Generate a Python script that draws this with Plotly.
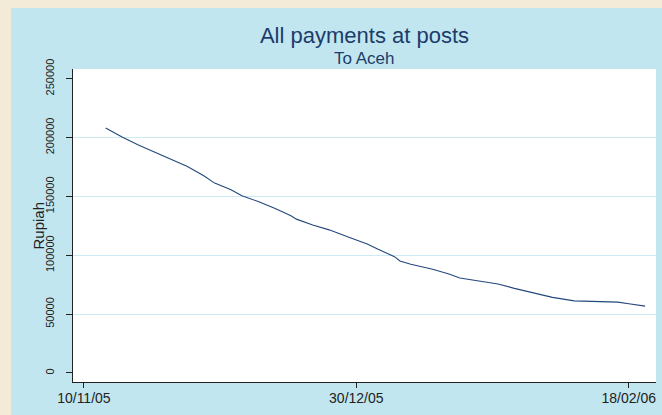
import plotly.graph_objects as go

# Data
dates = ["2005-11-14", "2005-11-15", "2005-11-17", "2005-11-20", "2005-11-23", "2005-11-26",
         "2005-11-29", "2005-12-02", "2005-12-04", "2005-12-07", "2005-12-09", "2005-12-12",
         "2005-12-15", "2005-12-18", "2005-12-19", "2005-12-22", "2005-12-25", "2005-12-29",
         "2006-01-01", "2006-01-03", "2006-01-05", "2006-01-06", "2006-01-07", "2006-01-09",
         "2006-01-13", "2006-01-16", "2006-01-18", "2006-01-22", "2006-01-25", "2006-01-28",
         "2006-02-01", "2006-02-04", "2006-02-08", "2006-02-12", "2006-02-16", "2006-02-18",
         "2006-02-21"]
rupiah = [208200, 205600, 200500, 193700, 187700, 181200,
          175500, 167600, 161300, 155600, 150500, 145700,
          140000, 133500, 130700, 125800, 121600, 114700,
          109600, 105100, 100500, 98800, 95100, 92300,
          88100, 84100, 80700, 77900, 75600, 71900,
          67600, 64200, 61300, 60800, 60200, 58800,
          56800]

x_tick_vals = ["2005-11-10", "2005-12-30", "2006-02-18"]
x_tick_text = ["10/11/05", "30/12/05", "18/02/06"]
y_tick_vals = [0, 50000, 100000, 150000, 200000, 250000]
y_grid_vals = [50000, 100000, 150000, 200000]

title_text = "All payments at posts"
subtitle_text = "To Aceh"
y_title = "Rupiah"

W, H = 662, 415
ML, MR, MT, MB = 73, 6, 69, 33
PW, PH = W - ML - MR, H - MT - MB

BLUE = "#C2E6EF"
BEIGE = "#F3EAD7"
NAVY = "#22497A"
TITLE_C = "#1C3D6B"
GRID = "#CDEBF4"
FONT = "Liberation Sans, Arial, sans-serif"

fig = go.Figure()
fig.add_trace(go.Scatter(x=dates, y=rupiah, mode="lines",
                         line=dict(color=NAVY, width=1.1), showlegend=False,
                         hoverinfo="skip"))
# invisible trace on overlay axis carrying the interior gridlines
fig.add_trace(go.Scatter(x=dates[:1], y=rupiah[:1], yaxis="y2", mode="lines",
                         line=dict(width=0), showlegend=False, hoverinfo="skip",
                         opacity=0))

yrange = [-7666, 258260]
fig.update_layout(
    width=W, height=H,
    margin=dict(l=ML, r=MR, t=MT, b=MB, pad=0),
    paper_bgcolor=BLUE, plot_bgcolor="white",
    font=dict(family=FONT, color="#222222"),
    xaxis=dict(type="date", range=["2005-11-08", "2006-02-23"],
               tickmode="array", tickvals=x_tick_vals, ticktext=x_tick_text,
               showgrid=False, zeroline=False,
               showline=True, linecolor="#222222", linewidth=1,
               ticks="outside", ticklen=5, tickwidth=1, tickcolor="#222222",
               ticklabelstandoff=-2,
               tickfont=dict(size=14, family=FONT, color="#222222")),
    yaxis=dict(range=yrange, tickmode="array", tickvals=y_tick_vals,
               ticktext=[str(v) for v in y_tick_vals],
               showgrid=False, zeroline=False,
               showline=True, linecolor="#222222", linewidth=1,
               ticks="outside", ticklen=6, tickwidth=1, tickcolor="#222222",
               tickangle=-90, ticklabelstandoff=8,
               tickfont=dict(size=11, family=FONT, color="#222222")),
    yaxis2=dict(range=yrange, overlaying="y", tickmode="array",
                tickvals=y_grid_vals, showticklabels=False, ticks="",
                showgrid=True, gridcolor=GRID, gridwidth=1,
                zeroline=False, showline=False),
    title=dict(text=title_text, x=(ML + PW / 2) / W, xanchor="center",
               y=1 - 35 / H, yanchor="middle",
               font=dict(size=22, family=FONT, color=TITLE_C)),
    annotations=[
        dict(text=subtitle_text, xref="paper", yref="paper",
             x=0.5, y=(H - MB - 58.5) / PH, xanchor="center", yanchor="middle",
             showarrow=False,
             font=dict(size=17, family=FONT, color=TITLE_C)),
        dict(text=y_title, xref="paper", yref="paper",
             x=(38 - ML) / PW, y=0.5, xanchor="center", yanchor="middle",
             textangle=-90, showarrow=False,
             font=dict(size=15, family=FONT, color="#222222")),
    ],
    shapes=[
        dict(type="rect", xref="paper", yref="paper", layer="below",
             x0=-1, x1=(11 - ML) / PW, y0=-1, y1=2,
             fillcolor=BEIGE, line=dict(width=0)),
        dict(type="rect", xref="paper", yref="paper", layer="below",
             x0=-1, x1=2, y0=(H - MB - 8) / PH, y1=2,
             fillcolor=BEIGE, line=dict(width=0)),
    ],
)

fig.write_html("out.html",
               config={"displayModeBar": False, "staticPlot": True},
               post_script="document.body.style.margin='0';"
                           "document.body.style.overflow='hidden';")
